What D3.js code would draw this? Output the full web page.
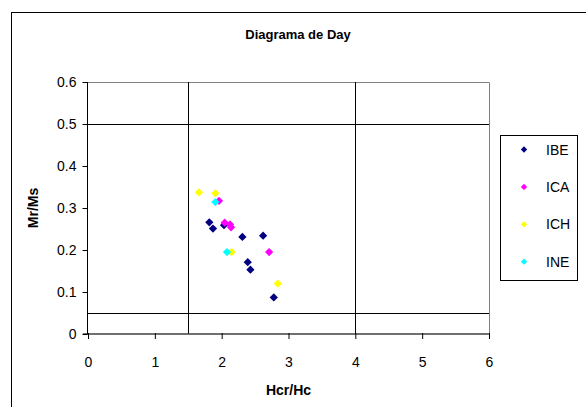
<!DOCTYPE html>
<html>
<head>
<meta charset="utf-8">
<script src="https://cdn.jsdelivr.net/npm/d3@7"></script>
<style>
  body { margin: 0; background: #fff; }
  svg text { font-family: "Liberation Sans", Arial, sans-serif; }
</style>
</head>
<body>
<div id="area"></div>
<script>
var width = 586, height = 407;

// series names and colours
var seriesNames = ['IBE', 'ICA', 'ICH', 'INE'];
var seriesColors = ['#000080', '#FF00FF', '#FFFF00', '#00FFFF'];

// values: [Hcr/Hc, Mr/Ms]
var ibe = [[1.815, 0.266], [1.87, 0.251], [2.035, 0.259], [2.31, 0.231], [2.62, 0.234],
           [2.39, 0.171], [2.43, 0.153], [2.78, 0.087]];
var ica = [[1.96, 0.317], [2.045, 0.265], [2.125, 0.261], [2.14, 0.254], [2.71, 0.195]];
var ich = [[1.66, 0.337], [1.905, 0.335], [2.15, 0.195], [2.84, 0.120]];
var ine = [[1.905, 0.314], [2.08, 0.195]];

// reference lines of the Day plot
var vLines = [1.5, 4];
var hLines = [0.5, 0.05];

var xTicks = [0, 1, 2, 3, 4, 5, 6];
var yTicks = [0, 0.1, 0.2, 0.3, 0.4, 0.5, 0.6];

var plot = {left: 88, right: 489, top: 82, bottom: 334};

var svg = d3.select('#area').append('svg')
    .attr('width', width).attr('height', height);

svg.append('rect').attr('width', width).attr('height', height).attr('fill', '#fff');

// outer chart frame
svg.append('rect')
    .attr('x', 11.5).attr('y', 12.5)
    .attr('width', 700).attr('height', 500)
    .attr('fill', 'none').attr('stroke', '#000').attr('stroke-width', 1);

var x = d3.scaleLinear().domain([0, 6]).range([plot.left, plot.right]);
var y = d3.scaleLinear().domain([0, 0.6]).range([plot.bottom, plot.top]);

// plot area border (grey top and right)
svg.append('path')
    .attr('d', 'M' + x(0) + ',' + (y(0.6) + 0.5) + 'H' + (x(6) + 0.5) + 'V' + y(0))
    .attr('fill', 'none').attr('stroke', '#808080');

// horizontal reference lines
svg.selectAll('.hline').data(hLines).enter().append('line')
    .attr('x1', x(0)).attr('x2', x(6))
    .attr('y1', function(d) { return Math.round(y(d)) + 0.5; })
    .attr('y2', function(d) { return Math.round(y(d)) + 0.5; })
    .attr('stroke', '#000');

// vertical reference lines
svg.selectAll('.vline').data(vLines).enter().append('line')
    .attr('y1', y(0.6)).attr('y2', y(0))
    .attr('x1', function(d) { return Math.round(x(d)) + 0.5; })
    .attr('x2', function(d) { return Math.round(x(d)) + 0.5; })
    .attr('stroke', '#000');

// axes
var xAxis = svg.append('g')
    .attr('transform', 'translate(0,' + y(0) + ')')
    .call(d3.axisBottom(x).tickValues(xTicks).tickSize(5).tickPadding(18)
        .tickFormat(d3.format('d')));
var yAxis = svg.append('g')
    .attr('transform', 'translate(' + (x(0) - 0.5) + ',0)')
    .call(d3.axisLeft(y).tickValues(yTicks).tickSize(5).tickPadding(6)
        .tickFormat(function(d) { return d === 0 ? '0' : d3.format('.1f')(d); }));

[xAxis, yAxis].forEach(function(a) {
  a.select('.domain').attr('stroke', '#000');
  a.selectAll('.tick line').attr('stroke', '#000');
  a.selectAll('text').attr('font-size', 14).attr('fill', '#000')
      .attr('font-family', '"Liberation Sans", Arial, sans-serif');
});
xAxis.selectAll('.tick line').attr('y1', -1);
xAxis.select('.domain').attr('stroke', '#404040').attr('stroke-width', 1.6)
    .attr('d', 'M' + (x(0) - 5) + ',0H' + x(6));
yAxis.select('.domain').attr('d', 'M0,' + y(0.6) + 'V' + y(0));

// points: square diamonds like the spreadsheet markers
var diamond = d3.symbol().type(d3.symbolSquare).size(34);
var allSeries = [ibe, ica, ich, ine];
allSeries.forEach(function(pts, i) {
  svg.append('g').selectAll('path').data(pts).enter().append('path')
      .attr('d', diamond)
      .attr('transform', function(d) {
        return 'translate(' + x(d[0]) + ',' + y(d[1]) + ') rotate(45)';
      })
      .attr('fill', seriesColors[i]);
});

// titles
svg.append('text')
    .attr('x', 298).attr('y', 39)
    .attr('text-anchor', 'middle').attr('font-size', 13).attr('font-weight', 'bold')
    .text('Diagrama de Day');
svg.append('text')
    .attr('x', x(3)).attr('y', 395)
    .attr('text-anchor', 'middle').attr('font-size', 14).attr('font-weight', 'bold')
    .text('Hcr/Hc');
svg.append('text')
    .attr('transform', 'translate(38,' + y(0.3) + ') rotate(-90)')
    .attr('text-anchor', 'middle').attr('font-size', 14).attr('font-weight', 'bold')
    .text('Mr/Ms');

// legend
var legend = svg.append('g');
legend.append('rect')
    .attr('x', 500.5).attr('y', 135.5).attr('width', 77).attr('height', 145)
    .attr('fill', '#fff').attr('stroke', '#000');
var legendDiamond = d3.symbol().type(d3.symbolSquare).size(20);
seriesNames.forEach(function(name, i) {
  var ly = 149.5 + i * 37.4;
  legend.append('path').attr('d', legendDiamond)
      .attr('transform', 'translate(524,' + ly + ') rotate(45)')
      .attr('fill', seriesColors[i]);
  legend.append('text')
      .attr('x', 546).attr('y', ly + 5)
      .attr('font-size', 14).text(name);
});
</script>
</body>
</html>
